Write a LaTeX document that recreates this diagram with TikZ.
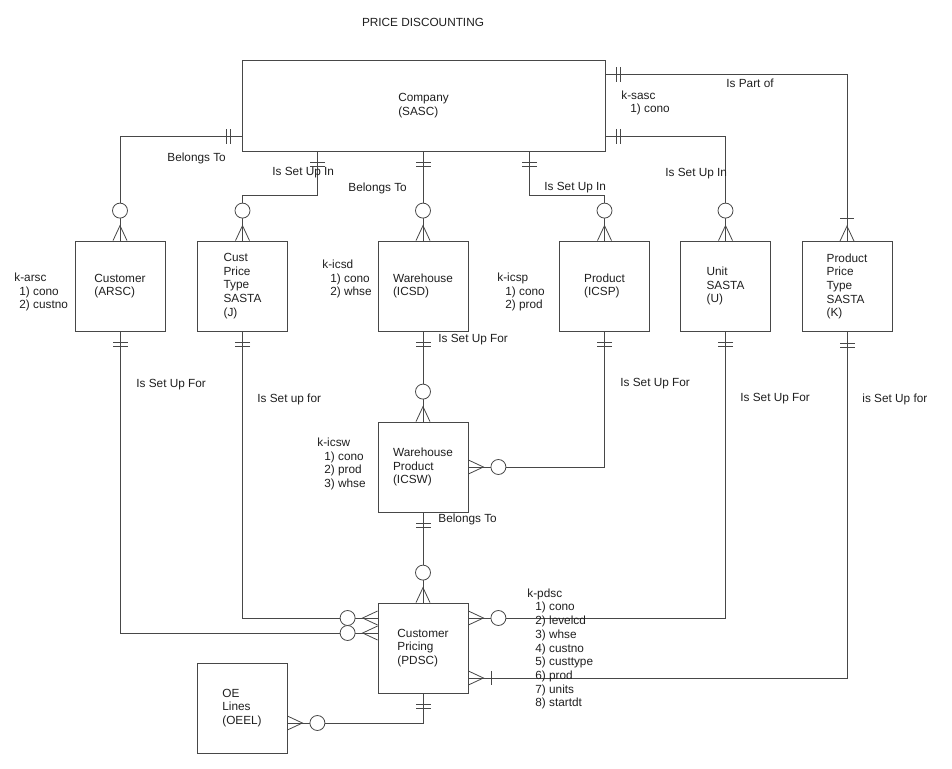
\documentclass[tikz,border=0pt]{standalone}
\usepackage{fontspec}
\setmainfont{Liberation Sans}
\usetikzlibrary{calc}
\tikzset{
  ent/.style={draw, minimum width=90pt, minimum height=90pt, align=left, inner sep=0pt},
  lbl/.style={anchor=west, inner sep=0pt, align=left},
  pics/zmany/.style={code={\draw (0,-7) -- (15,0) -- (0,7); \draw[fill=white] (30,0) circle[radius=7.5pt];}},
  pics/omany/.style={code={\draw (0,-7) -- (15,0) -- (0,7); \draw (23,-7) -- (23,7);}},
  pics/oone/.style={code={\draw (11,-7.5) -- (11,7.5) (15,-7.5) -- (15,7.5);}},
}
\begin{document}
\begin{tikzpicture}[x=1pt,y=-1pt, line width=0.8pt, color=black!72, text=black!88,
  font=\fontsize{11.8}{13.7}\selectfont]
\useasboundingbox (0,0) rectangle (952,768);

\node (title) at (423,22) {PRICE DISCOUNTING};

% entities
\node[ent, minimum width=363pt, minimum height=91pt] (company) at (423.5,105.5) {Company\\(SASC)};
\node[ent] (cust) at (120,286) {Customer\\(ARSC)};
\node[ent] (cpt) at (242.5,286) {Cust\\Price\\Type\\SASTA\\(J)};
\node[ent] (wh) at (423,286) {Warehouse\\(ICSD)};
\node[ent] (prod) at (604.5,286) {Product\\(ICSP)};
\node[ent] (unit) at (725.5,286) {Unit\\SASTA\\(U)};
\node[ent] (ppt) at (847,286.5) {Product\\Price\\Type\\SASTA\\(K)};
\node[ent] (wp) at (423,467) {Warehouse\\Product\\(ICSW)};
\node[ent] (cp) at (423,648) {Customer\\Pricing\\(PDSC)};
\node[ent] (oe) at (242,708) {OE\\Lines\\(OEEL)};

% bend coordinates
\coordinate (cw1) at ($(company.south west)+(0,-15)$);
\coordinate (cs2) at ($(company.south west)+(76,0)$);
\coordinate (cs4) at ($(company.south west)+(288,0)$);
\coordinate (ce5) at ($(company.south east)+(0,-15)$);
\coordinate (ce6) at ($(company.north east)+(0,15)$);
\coordinate (cpw1) at ($(cp.west)+(0,-15)$);
\coordinate (cpw2) at ($(cp.west)+(0,-30)$);
\coordinate (cpe1) at ($(cp.east)+(0,-30)$);
\coordinate (cpe2) at ($(cp.east)+(0,30)$);
\coordinate (oee) at ($(oe.east)+(0,15)$);

% connectors
\draw (cw1) -| (cust.north);
\draw (cs2) |- ($(cpt.north)+(0,-45)$) -- (cpt.north);
\draw (wh.north |- company.south) -- (wh.north);
\draw (cs4) |- ($(prod.north)+(0,-45)$) -- (prod.north);
\draw (ce5) -| (unit.north);
\draw (ce6) -| (ppt.north);
\draw (cust.south) |- (cpw1);
\draw (cpt.south) |- (cpw2);
\draw (wh.south) -- (wp.north);
\draw (prod.south) |- (wp.east);
\draw (wp.south) -- (cp.north);
\draw (unit.south) |- (cpe1);
\draw (ppt.south) |- (cpe2);
\draw (cp.south) |- (oee);

% cardinality marks
\pic[rotate=180] at (cw1) {oone};
\pic[rotate=-90] at (cs2) {oone};
\pic[rotate=-90] at (wh.north |- company.south) {oone};
\pic[rotate=-90] at (cs4) {oone};
\pic at (ce5) {oone};
\pic at (ce6) {oone};
\pic[rotate=90] at (cust.north) {zmany};
\pic[rotate=90] at (cpt.north) {zmany};
\pic[rotate=90] at (wh.north) {zmany};
\pic[rotate=90] at (prod.north) {zmany};
\pic[rotate=90] at (unit.north) {zmany};
\pic[rotate=90] at (ppt.north) {omany};
\pic[rotate=-90] at (cust.south) {oone};
\pic[rotate=-90] at (cpt.south) {oone};
\pic[rotate=-90] at (wh.south) {oone};
\pic[rotate=-90] at (prod.south) {oone};
\pic[rotate=-90] at (unit.south) {oone};
\pic[rotate=-90] at (ppt.south) {oone};
\pic[rotate=-90] at (wp.south) {oone};
\pic[rotate=-90] at (cp.south) {oone};
\pic[rotate=90] at (wp.north) {zmany};
\pic at (wp.east) {zmany};
\pic[rotate=90] at (cp.north) {zmany};
\pic[rotate=180] at (cpw1) {zmany};
\pic[rotate=180] at (cpw2) {zmany};
\pic at (cpe1) {zmany};
\pic at (cpe2) {omany};
\pic at (oee) {zmany};

% relationship labels
\node[lbl] (l1) at (167,158) {Belongs To};
\node[lbl] (l2) at (272,173) {Is Set Up In};
\node[lbl] (l3) at (348,188) {Belongs To};
\node[lbl] (l4) at (544,188) {Is Set Up In};
\node[lbl] (l5) at (665,174) {Is Set Up In};
\node[lbl] (l6) at (726,83) {Is Part of};
\node[lbl] (l7) at (136,385) {Is Set Up For};
\node[lbl] (l8) at (257,399) {Is Set up for};
\node[lbl] (l9) at (438,340) {Is Set Up For};
\node[lbl] (l10) at (620,384) {Is Set Up For};
\node[lbl] (l11) at (740,399) {Is Set Up For};
\node[lbl] (l12) at (862,399) {is Set Up for};
\node[lbl] (l13) at (438,519) {Belongs To};

% keys
\node[lbl] (ksasc) at (621,103) {k-sasc\\\hspace*{9pt}1) cono};
\node[lbl] (karsc) at (14,292) {k-arsc\\\hspace*{5pt}1) cono\\\hspace*{5pt}2) custno};
\node[lbl] (kicsd) at (322,279) {k-icsd\\\hspace*{8pt}1) cono\\\hspace*{8pt}2) whse};
\node[lbl] (kicsp) at (497,292) {k-icsp\\\hspace*{8pt}1) cono\\\hspace*{8pt}2) prod};
\node[lbl] (kicsw) at (317,464) {k-icsw\\\hspace*{7pt}1) cono\\\hspace*{7pt}2) prod\\\hspace*{7pt}3) whse};
\node[lbl] (kpdsc) at (527,649) {k-pdsc\\\hspace*{8pt}1) cono\\\hspace*{8pt}2) levelcd\\\hspace*{8pt}3) whse\\\hspace*{8pt}4) custno\\\hspace*{8pt}5) custtype\\\hspace*{8pt}6) prod\\\hspace*{8pt}7) units\\\hspace*{8pt}8) startdt};
\end{tikzpicture}
\end{document}
